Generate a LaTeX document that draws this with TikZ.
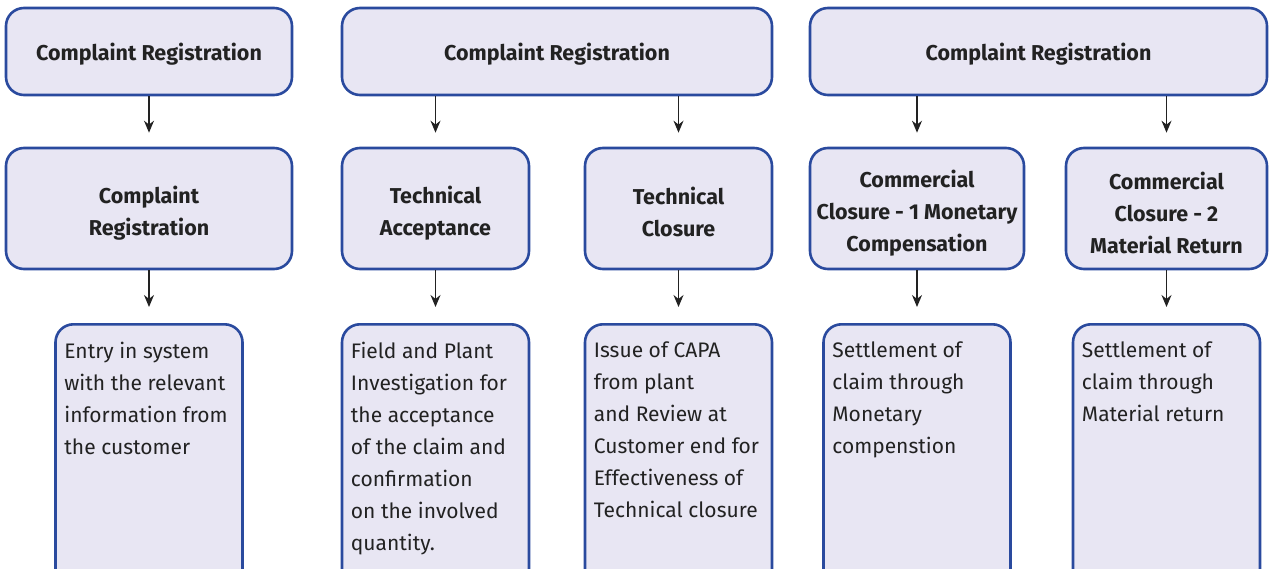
\documentclass[tikz,border=0pt]{standalone}
\usepackage{fontspec}
\setmainfont{Fira Sans}
\usetikzlibrary{arrows.meta}
\definecolor{boxfill}{HTML}{E8E6F3}
\definecolor{boxline}{HTML}{2A4A9E}
\definecolor{ink}{HTML}{222222}

\begin{document}
\begin{tikzpicture}[x=1pt,y=-1pt,
	box/.style={rectangle,draw=boxline,fill=boxfill,line width=2.6pt,rounded corners=18pt,inner sep=0pt},
	body/.style={box,minimum width=187pt,minimum height=290pt,anchor=north},
	head/.style={font=\bfseries\fontsize{21.5}{32}\selectfont,text=ink,align=center,inner sep=0pt},
	txt/.style={anchor=north west,align=left,font=\fontsize{21}{32}\selectfont,text=ink,inner sep=0pt},
	arr/.style={draw=ink,line width=1.3pt,-{Stealth[length=12pt,width=10pt]}}
	]
	\useasboundingbox (0,0) rectangle (1271,569);
	\clip (0,0) rectangle (1271,569);
	% top row
	\node[box,minimum width=286pt,minimum height=87pt] (top1) at (149,51.5) {};
	\node[box,minimum width=430pt,minimum height=87pt] (top2) at (557,51.5) {};
	\node[box,minimum width=457pt,minimum height=87pt] (top3) at (1038.5,51.5) {};
	\node[head] (top1txt) at ([yshift=-3pt]top1.center) {Complaint Registration};
	\node[head] (top2txt) at ([yshift=-3pt]top2.center) {Complaint Registration};
	\node[head] (top3txt) at ([yshift=-3pt]top3.center) {Complaint Registration};
	% middle row
	\node[box,minimum width=286pt,minimum height=121pt] (mid1) at (149,208.5) {};
	\node[box,minimum width=187pt,minimum height=121pt] (mid2) at (435.5,208.5) {};
	\node[box,minimum width=187pt,minimum height=121pt] (mid3) at (678.5,208.5) {};
	\node[box,minimum width=214pt,minimum height=121pt] (mid4) at (917,208.5) {};
	\node[box,minimum width=201pt,minimum height=121pt] (mid5) at (1166.5,208.5) {};
	\node[head] (mid1txt) at ([yshift=-5pt]mid1.center) {Complaint\\Registration};
	\node[head] (mid2txt) at ([yshift=-5pt]mid2.center) {Technical\\Acceptance};
	\node[head] (mid3txt) at ([yshift=-3pt]mid3.center) {Technical\\Closure};
	\node[head] (mid4txt) at ([yshift=-5pt]mid4.center) {Commercial\\Closure - 1 Monetary\\Compensation};
	\node[head] (mid5txt) at ([yshift=-4pt]mid5.center) {Commercial\\Closure - 2\\Material Return};
	% bottom row
	\node[body] (bot1) at (149,323) {};
	\node[body] (bot2) at (435.5,323) {};
	\node[body] (bot3) at (678.5,323) {};
	\node[body] (bot4) at (917,323) {};
	\node[body] (bot5) at (1166.5,323) {};
	\node[txt] (txt1) at ([shift={(10,19)}]bot1.north west) {Entry in system\\with the relevant\\information from\\the customer};
	\node[txt] (txt2) at ([shift={(10,19)}]bot2.north west) {Field and Plant\\Investigation for\\the acceptance\\of the claim and\\confirmation\\on the involved\\quantity.};
	\node[txt] (txt3) at ([shift={(10,19)}]bot3.north west) {Issue of CAPA\\from plant\\and Review at\\Customer end for\\Effectiveness of\\Technical closure};
	\node[txt] (txt4) at ([shift={(10,19)}]bot4.north west) {Settlement of\\claim through\\Monetary\\compenstion};
	\node[txt] (txt5) at ([shift={(10,19)}]bot5.north west) {Settlement of\\claim through\\Material return};
	% arrows
	\draw[arr] (top1.south) -- ([yshift=14pt]mid1.north);
	\draw[arr] (mid2.north |- top2.south) -- ([yshift=14pt]mid2.north);
	\draw[arr] (mid3.north |- top2.south) -- ([yshift=14pt]mid3.north);
	\draw[arr] (mid4.north |- top3.south) -- ([yshift=14pt]mid4.north);
	\draw[arr] (mid5.north |- top3.south) -- ([yshift=14pt]mid5.north);
	\draw[arr] (mid1.south) -- ([yshift=16pt]bot1.north);
	\draw[arr] (mid2.south) -- ([yshift=16pt]bot2.north);
	\draw[arr] (mid3.south) -- ([yshift=16pt]bot3.north);
	\draw[arr] (mid4.south) -- ([yshift=16pt]bot4.north);
	\draw[arr] (mid5.south) -- ([yshift=16pt]bot5.north);
\end{tikzpicture}
\end{document}
